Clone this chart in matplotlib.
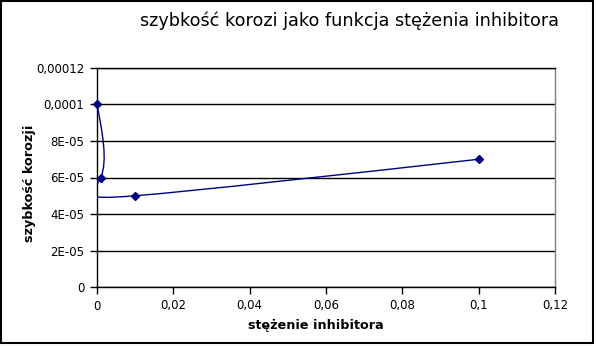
import numpy as np
import matplotlib
matplotlib.use('Agg')
import matplotlib.pyplot as plt
from matplotlib.path import Path
from matplotlib.patches import PathPatch, Rectangle
from matplotlib.ticker import FixedLocator, FixedFormatter

plt.rcParams['font.family'] = ['DejaVu Sans']

# data
stezenie = [0.0, 0.001, 0.01, 0.1]
szybkosc = [0.0001, 0.00006, 0.00005, 0.00007]

x_ticks = [0, 0.02, 0.04, 0.06, 0.08, 0.1, 0.12]
x_tick_labels = ['0', '0,02', '0,04', '0,06', '0,08', '0,1', '0,12']
y_ticks = [0, 2e-5, 4e-5, 6e-5, 8e-5, 1e-4, 1.2e-4]
y_tick_labels = ['0', '2E-05', '4E-05', '6E-05', '8E-05', '0,0001', '0,00012']

navy = '#000080'


def natural_spline_path(xs, ys):
    """Parametric natural cubic spline (uniform parameter) as Bezier path,
    like the office chart 'cubic spline' smoothing."""
    pts = np.column_stack([xs, ys])
    n = len(pts)
    # second derivatives for each coordinate
    A = np.zeros((n, n))
    rhs = np.zeros((n, 2))
    A[0, 0] = A[-1, -1] = 1
    for i in range(1, n - 1):
        A[i, i - 1], A[i, i], A[i, i + 1] = 1, 4, 1
        rhs[i] = 6 * (pts[i - 1] - 2 * pts[i] + pts[i + 1])
    M = np.linalg.solve(A, rhs)
    verts = [pts[0]]
    codes = [Path.MOVETO]
    for i in range(n - 1):
        d0 = pts[i + 1] - pts[i] - (2 * M[i] + M[i + 1]) / 6
        d1 = pts[i + 1] - pts[i] + (M[i] + 2 * M[i + 1]) / 6
        verts += [pts[i] + d0 / 3, pts[i + 1] - d1 / 3, pts[i + 1]]
        codes += [Path.CURVE4] * 3
    return Path(verts, codes)


fig = plt.figure(figsize=(5.96, 3.46), dpi=100)
ax = fig.add_axes([97 / 596, 59 / 346, 458 / 596, 219 / 346])

ax.set_xlim(0, 0.12)
ax.set_ylim(0, 0.00012)

ax.add_patch(PathPatch(natural_spline_path(stezenie, szybkosc),
                       facecolor='none', edgecolor=navy, lw=1.0, zorder=3))
ax.plot(stezenie, szybkosc, linestyle='none', marker='D', ms=4.5,
        color=navy, zorder=4, clip_on=False)

ax.xaxis.set_major_locator(FixedLocator(x_ticks))
ax.xaxis.set_major_formatter(FixedFormatter(x_tick_labels))
ax.yaxis.set_major_locator(FixedLocator(y_ticks))
ax.yaxis.set_major_formatter(FixedFormatter(y_tick_labels))
ax.tick_params(direction='out', length=5, width=1, labelsize=8.5,
               colors='black', pad=4)
ax.yaxis.grid(True, color='black', lw=1)
ax.set_axisbelow(True)

for s in ['left', 'bottom', 'top']:
    ax.spines[s].set_color('black')
    ax.spines[s].set_linewidth(1)
ax.spines['right'].set_color('#808080')
ax.spines['right'].set_linewidth(1)

ax.set_xlabel('stężenie inhibitora', fontsize=9.2, fontweight='bold')
ax.xaxis.set_label_coords((316 - 97) / 458, -(326 - 287) / 219,
                          transform=ax.transAxes)
ax.xaxis.label.set_va('center')
ax.set_ylabel('szybkość korozji', fontsize=9.2, fontweight='bold')
ax.yaxis.set_label_coords(-(97 - 30) / 458, (287 - 183) / 219)
ax.yaxis.label.set_va('center')
fig.text(350 / 596, 1 - 21 / 346,
         'szybkość korozi jako funkcja stężenia inhibitora',
         fontsize=12.7, ha='center', va='center')

# outer chart frame
fig.patches.append(Rectangle((1 / 596, 3 / 346), 592 / 596, 342 / 346,
                             transform=fig.transFigure, fill=False,
                             edgecolor='black', lw=1.5))

fig.savefig('out.png', dpi=100)
